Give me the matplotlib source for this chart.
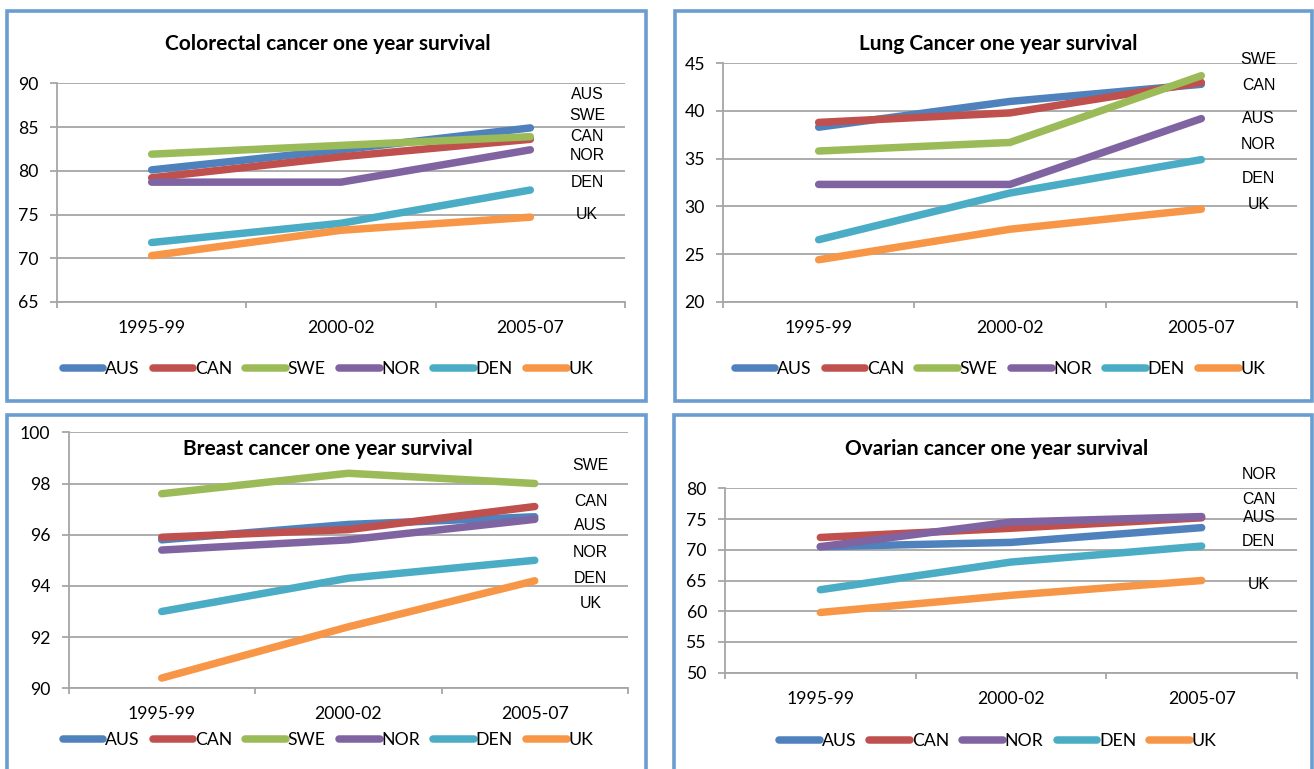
import matplotlib
matplotlib.use("Agg")
import matplotlib.pyplot as plt
from matplotlib.patches import Rectangle

W, H = 1314, 769

periods = ["1995-99", "2000-02", "2005-07"]

colors = {
    "AUS": "#4f81bd",
    "CAN": "#c0504d",
    "SWE": "#9bbb59",
    "NOR": "#8064a2",
    "DEN": "#4bacc6",
    "UK": "#f79646",
}

# survival (%) per country
colorectal = {
    "AUS": [80.1, 82.4, 84.9],
    "CAN": [79.2, 81.6, 83.6],
    "SWE": [81.9, 82.9, 83.9],
    "NOR": [78.7, 78.7, 82.4],
    "DEN": [71.8, 74.0, 77.8],
    "UK": [70.3, 73.2, 74.7],
}
lung = {
    "AUS": [38.3, 41.0, 42.8],
    "CAN": [38.8, 39.8, 43.0],
    "SWE": [35.8, 36.7, 43.7],
    "NOR": [32.3, 32.3, 39.2],
    "DEN": [26.5, 31.4, 34.9],
    "UK": [24.4, 27.6, 29.7],
}
breast = {
    "AUS": [95.8, 96.4, 96.7],
    "CAN": [95.9, 96.2, 97.1],
    "SWE": [97.6, 98.4, 98.0],
    "NOR": [95.4, 95.8, 96.6],
    "DEN": [93.0, 94.3, 95.0],
    "UK": [90.4, 92.4, 94.2],
}
ovarian = {
    "AUS": [70.5, 71.2, 73.6],
    "CAN": [72.0, 73.5, 75.2],
    "NOR": [70.5, 74.5, 75.4],
    "DEN": [63.5, 68.0, 70.6],
    "UK": [59.8, 62.6, 65.0],
}

# hand-placed country labels on the right of each chart (value axis units)
colorectal_labels = {"AUS": 88.7, "SWE": 86.3, "CAN": 83.9, "NOR": 81.7, "DEN": 78.7, "UK": 75.0}
lung_labels = {"SWE": 45.45, "CAN": 42.7, "AUS": 39.2, "NOR": 36.5, "DEN": 32.9, "UK": 30.2}
breast_labels = {"SWE": 98.7, "CAN": 97.3, "AUS": 96.35, "NOR": 95.3, "DEN": 94.3, "UK": 93.3}
ovarian_labels = {"NOR": 82.3, "CAN": 78.1, "AUS": 75.3, "DEN": 71.3, "UK": 64.3}

panels = [
    # title, data, labels, ylim, ystep, plot box (l, t, r, b px), title pos, legend pos, frame
    ("Colorectal cancer one year survival", colorectal, colorectal_labels, (65, 90), 5,
     (57, 83.3, 625, 302), (328, 44), (328, 369), (7, 11.3, 645.5, 401.5)),
    ("Lung Cancer one year survival", lung, lung_labels, (20, 45), 5,
     (723, 63.3, 1297, 301.7), (998, 44), (1000, 369), (675, 11.3, 1311.5, 401.5)),
    ("Breast cancer one year survival", breast, breast_labels, (90, 100), 2,
     (68.5, 432.3, 628, 688.3), (328, 449), (328, 740), (7, 415, 645.5, 800)),
    ("Ovarian cancer one year survival", ovarian, ovarian_labels, (50, 80), 5,
     (725, 488.3, 1297, 672.7), (997, 449), (998, 741), (673.5, 415, 1311.5, 800)),
]

FONT = ["Lato", "DejaVu Sans"]
LABEL_FONT = ["Liberation Sans", "DejaVu Sans"]
GRID = "#a6a6a6"
FRAME = "#6b9dd0"

fig = plt.figure(figsize=(W / 100, H / 100), dpi=100)
fig.patch.set_facecolor("white")

for title, data, labels, ylim, ystep, box, tpos, lpos, frame in panels:
    l, t, r, b = box
    ax = fig.add_axes([l / W, 1 - b / H, (r - l) / W, (b - t) / H])

    x = range(len(periods))
    for name, vals in data.items():
        ax.plot(x, vals, color=colors[name], lw=5.4, solid_capstyle="round",
                solid_joinstyle="round", label=name)

    for name, yv in labels.items():
        ax.text(2.3, yv, name, ha="center", va="center", fontsize=11.4,
                family=LABEL_FONT, clip_on=False)

    ax.set_xlim(-0.5, 2.5)
    ax.set_ylim(*ylim)
    ax.set_yticks(range(ylim[0], ylim[1] + 1, ystep))
    ax.set_xticks(list(x))
    ax.set_xticklabels(periods)
    ax.set_xticks([-0.5, 0.5, 1.5, 2.5], minor=True)
    ax.tick_params(axis="x", which="major", length=0, pad=13, labelsize=12.7)
    ax.tick_params(axis="x", which="minor", length=4, color=GRID, width=1.3)
    ax.tick_params(axis="y", length=5, color=GRID, width=1.3, pad=8, labelsize=12.7)
    for lab in ax.get_xticklabels() + ax.get_yticklabels():
        lab.set_family(FONT)

    ax.grid(axis="y", color=GRID, lw=1.3)
    ax.set_axisbelow(True)
    for side in ("top", "right"):
        ax.spines[side].set_visible(False)
    for side in ("left", "bottom"):
        ax.spines[side].set_color(GRID)
        ax.spines[side].set_linewidth(1.3)

    fig.text(tpos[0] / W, 1 - tpos[1] / H, title, ha="center", va="center",
             fontsize=15, fontweight="bold", family=FONT)

    ax.legend(loc="center", bbox_to_anchor=(lpos[0] / W, 1 - lpos[1] / H),
              bbox_transform=fig.transFigure, ncol=len(data), frameon=False,
              handlelength=2.3, handletextpad=0.1, columnspacing=0.75,
              prop={"family": FONT, "size": 12.7})

    fl, ft, fr, fb = frame
    fig.patches.append(Rectangle((fl / W, 1 - fb / H), (fr - fl) / W, (fb - ft) / H,
                                 transform=fig.transFigure, fill=False,
                                 edgecolor=FRAME, lw=2.6))

fig.savefig("out.png", dpi=100)
